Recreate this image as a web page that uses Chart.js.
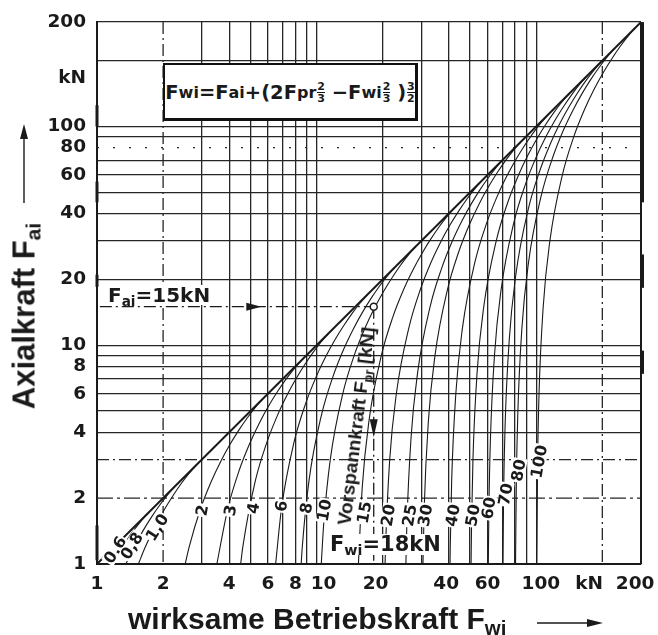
<!DOCTYPE html>
<html>
<head>
<meta charset="utf-8">
<script src="https://cdn.jsdelivr.net/npm/chart.js@4.4.1/dist/chart.umd.min.js"></script>
<style>
  body { margin: 0; background: #fff; }
  #stage { position: relative; width: 658px; height: 635px; overflow: hidden; color: #1a1a1a; }
  canvas { position: absolute; left: 0; top: 0; }
  .txt { position: absolute; white-space: nowrap; font-weight: bold; }
  .txt sub { font-size: 0.68em; vertical-align: -0.3em; line-height: 0; }
  #ytitle { font: bold 31px "Liberation Sans", Arial, sans-serif; line-height: 31px;
            left: 24px; top: 316px; transform: translate(-50%, -50%) rotate(-90deg); }
  #xtitle { font: bold 30px "Liberation Sans", Arial, sans-serif; line-height: 30px; left: 128px; top: 604px; }
  #formula { font: bold 19.5px "DejaVu Sans", sans-serif; left: 163px; top: 63px; width: 250px; height: 51px;
             background: #fff; border: 2px solid #111; border-right-width: 3px; border-bottom-width: 3px;
             display: flex; align-items: center; justify-content: center; padding-top: 2px; box-sizing: content-box; }
  #formula sub { font-size: 16px; vertical-align: -5px; }
  .fr { display: inline-flex; flex-direction: column; font-size: 11px; line-height: 11px;
        vertical-align: 10px; margin-left: 1px; text-align: center; }
  .fr span:first-child { border-bottom: 1px solid #111; }
  #faiNote { font: bold 20px "DejaVu Sans", sans-serif; line-height: 20px; left: 106px; top: 285px;
             background: #fff; padding: 0 2px; }
  #fwiNote { font: bold 21px "DejaVu Sans", sans-serif; line-height: 21px; left: 328px; top: 534px;
             background: #fff; padding: 0 2px; }
  #vorspann { font: bold 19px "Liberation Sans", Arial, sans-serif; line-height: 19px;
              left: 356px; top: 426px; transform: translate(-50%, -50%) rotate(-83deg); }
</style>
</head>
<body>
<div id="stage">
  <canvas id="chart" width="658" height="635"></canvas>
  <div class="txt" id="ytitle">Axialkraft F<sub>ai</sub></div>
  <div class="txt" id="xtitle">wirksame Betriebskraft F<sub>wi</sub></div>
  <div class="txt" id="formula">F<sub>wi</sub>=F<sub>ai</sub>+(2F<sub>pr</sub><span class="fr"><span>2</span><span>3</span></span>&nbsp;&minus;F<sub>wi</sub><span class="fr"><span>2</span><span>3</span></span>&nbsp;)<span class="fr"><span>3</span><span>2</span></span></div>
  <div class="txt" id="faiNote">F<sub>ai</sub>=15kN</div>
  <div class="txt" id="fwiNote">F<sub>wi</sub>=18kN</div>
  <div class="txt" id="vorspann">Vorspannkraft F<sub>pr</sub> [kN]</div>
</div>
<script>
// Vorspannkraft-Kurven (Fpr in kN): wirksame Betriebskraft Fwi -> Axialkraft Fai
const preloadKN = [0.6, 0.8, 1.0, 2, 3, 4, 6, 8, 10, 15, 20, 25, 30, 40, 50, 60, 70, 80, 100];

const curveFwi = [
  [1.17, 1.21, 1.33, 1.45, 1.57, 1.70],
  [1.354, 1.47, 1.619, 1.773, 1.932, 2.095, 2.263],
  [1.543, 1.657, 1.837, 2.024, 2.217, 2.415, 2.619, 2.828],
  [2.521, 2.629, 2.964, 3.313, 3.674, 4.048, 4.433, 4.83, 5.238, 5.657],
  [3.514, 3.944, 4.447, 4.97, 5.511, 6.072, 6.65, 7.245, 7.857, 8.485],
  [4.51, 4.615, 5.258, 5.929, 6.626, 7.348, 8.095, 8.866, 9.66, 10.48, 11.31],
  [6.507, 6.922, 7.887, 8.893, 9.939, 11.02, 12.14, 13.3, 14.49, 15.71, 16.97],
  [8.505, 8.607, 9.23, 10.52, 11.86, 13.25, 14.7, 16.19, 17.73, 19.32, 20.95, 22.63],
  [10.5, 10.76, 11.54, 13.15, 14.82, 16.57, 18.37, 20.24, 22.17, 24.15, 26.19, 28.28],
  [15.5, 16.14, 17.31, 19.72, 22.23, 24.85, 27.56, 30.36, 33.25, 36.22, 39.29, 42.43],
  [20.5, 20.6, 21.52, 23.07, 26.29, 29.65, 33.13, 36.74, 40.48, 44.33, 48.3, 52.38, 56.57],
  [25.5, 25.75, 26.9, 28.84, 32.86, 37.06, 41.41, 45.93, 50.6, 55.41, 60.37, 65.47, 70.71],
  [30.5, 30.9, 32.28, 34.61, 39.44, 44.47, 49.7, 55.11, 60.72, 66.5, 72.45, 78.57, 84.85],
  [40.5, 40.6, 41.21, 43.04, 46.15, 52.58, 59.29, 66.26, 73.49, 80.95, 88.66, 96.6, 104.8, 113.1],
  [50.5, 50.75, 51.51, 53.8, 57.69, 65.73, 74.11, 82.83, 91.86, 101.2, 110.8, 120.7, 130.9, 141.4],
  [60.5, 60.9, 61.81, 64.56, 69.22, 78.87, 88.93, 99.39, 110.2, 121.4, 133.0, 144.9, 157.1, 169.7],
  [70.5, 71.05, 72.11, 75.32, 80.76, 92.02, 103.8, 116.0, 128.6, 141.7, 155.2, 169.0, 183.3, 198.0],
  [80.5, 81.2, 82.41, 86.07, 92.3, 105.2, 118.6, 132.5, 147.0, 161.9, 177.3, 193.2, 209.5, 226.3],
  [100.5, 101.5, 103.0, 107.6, 115.4, 131.5, 148.2, 165.7, 183.7, 202.4, 221.7, 241.5, 261.9, 282.8]
];

const curveFai = [
  [1.0, 1.06, 1.23, 1.40, 1.55, 1.70],
  [1.0, 1.187, 1.417, 1.642, 1.86, 2.07, 2.263],
  [1.0, 1.192, 1.484, 1.771, 2.052, 2.326, 2.587, 2.828],
  [1.0, 1.198, 1.793, 2.383, 2.967, 3.542, 4.104, 4.651, 5.175, 5.657],
  [1.0, 1.797, 2.69, 3.575, 4.451, 5.313, 6.157, 6.977, 7.762, 8.485],
  [1.0, 1.2, 2.396, 3.586, 4.767, 5.934, 7.084, 8.209, 9.302, 10.35, 11.31],
  [1.0, 1.799, 3.594, 5.379, 7.15, 8.901, 10.63, 12.31, 13.95, 15.52, 16.97],
  [1.0, 1.2, 2.399, 4.792, 7.173, 9.534, 11.87, 14.17, 16.42, 18.6, 20.7, 22.63],
  [1.0, 1.5, 3.0, 5.99, 8.966, 11.92, 14.84, 17.71, 20.52, 23.26, 25.87, 28.28],
  [1.0, 2.25, 4.498, 8.985, 13.45, 17.88, 22.25, 26.56, 30.78, 34.88, 38.81, 42.43],
  [1.0, 1.2, 3.0, 5.998, 11.98, 17.93, 23.84, 29.67, 35.42, 41.04, 46.51, 51.75, 56.57],
  [1.0, 1.5, 3.75, 7.497, 14.98, 22.41, 29.79, 37.09, 44.27, 51.31, 58.14, 64.68, 70.71],
  [1.0, 1.8, 4.499, 8.996, 17.97, 26.9, 35.75, 44.51, 53.13, 61.57, 69.77, 77.62, 84.85],
  [1.0, 1.2, 2.4, 5.999, 12.0, 23.96, 35.86, 47.67, 59.34, 70.84, 82.09, 93.02, 103.5, 113.1],
  [1.0, 1.5, 3.0, 7.499, 14.99, 29.95, 44.83, 59.59, 74.18, 88.54, 102.6, 116.3, 129.4, 141.4],
  [1.0, 1.8, 3.6, 8.999, 17.99, 35.94, 53.79, 71.5, 89.01, 106.3, 123.1, 139.5, 155.2, 169.7],
  [1.0, 2.1, 4.2, 10.5, 20.99, 41.93, 62.76, 83.42, 103.9, 124.0, 143.7, 162.8, 181.1, 198.0],
  [1.0, 2.4, 4.8, 12.0, 23.99, 47.92, 71.73, 95.34, 118.7, 141.7, 164.2, 186.0, 207.0, 226.3],
  [1.0, 3.0, 6.0, 15.0, 29.99, 59.9, 89.66, 119.2, 148.4, 177.1, 205.2, 232.6, 258.7, 282.8]
];

// Diagonale Fai = Fwi
const diagFwi = [1, 300];
const diagFai = [1, 300];

// Ablesebeispiel: Fai = 15 kN -> Fwi = 18 kN
const exampleFai = 15;
const exampleFwi = 18.2;

// Kurvenbeschriftungen
const curveLabelText = ['0,6', '0,8', '1,0', '2', '3', '4', '6', '8', '10', '15', '20', '25', '30', '40', '50', '60', '70', '80', '100'];
const curveLabelFwi = [1.21, 1.44, 1.88, 3.01, 4.05, 5.15, 6.92, 8.98, 10.86, 16.5, 21.2, 26.5, 31.3, 41.7, 51.5, 60.8, 72.6, 83.2, 103.1];
const curveLabelFai = [1.16, 1.21, 1.47, 1.76, 1.76, 1.8, 1.84, 1.8, 1.76, 1.72, 1.67, 1.67, 1.67, 1.67, 1.67, 1.8, 2.08, 2.68, 2.94];

// Achsen: Gitterlinien und Beschriftungen
const gridValues = [1, 2, 3, 4, 5, 6, 7, 8, 9, 10, 20, 30, 40, 50, 60, 70, 80, 90, 100, 200, 300];
const xLabelValues = [1, 2, 4, 6, 8, 10.75, 18.55, 38.9, 60, 105, 174, 282];
const xLabelText = ['1', '2', '4', '6', '8', '10', '20', '40', '60', '100', 'kN', '200'];
const yLabelValues = [1, 2, 4, 6, 8, 10, 20, 40, 60, 80, 100, 167, 300];
const yLabelText = ['1', '2', '4', '6', '8', '10', '20', '40', '60', '80', '100', 'kN', '200'];

const INK = '#1a1a1a';
const dashedX = [2, 200];
const dashedY = [2, 3, 80];

function near(a, b) { return Math.abs(a - b) < 1e-6; }

function tickSet(labels) {
  const all = gridValues.concat(labels.filter(v => !gridValues.some(g => near(g, v))));
  return all.sort((a, b) => a - b).map(v => ({ value: v }));
}

function labelFor(v, values, texts) {
  const i = values.findIndex(l => near(l, v));
  return i < 0 ? '' : texts[i];
}

function gridColor(v, dashed) {
  if (!gridValues.some(g => near(g, v))) return 'rgba(0,0,0,0)';
  if (dashed.some(d => near(d, v))) return 'rgba(0,0,0,0)';
  return '#262626';
}

const datasets = preloadKN.map((kn, i) => ({
  label: 'Fpr ' + kn + ' kN',
  data: curveFwi[i].map((fwi, j) => ({ x: fwi, y: curveFai[i][j] })),
  borderColor: INK,
  borderWidth: 1.1,
  pointRadius: 0,
  cubicInterpolationMode: 'monotone',
  fill: false
}));

datasets.push({
  label: 'Fai = Fwi',
  data: diagFwi.map((v, j) => ({ x: v, y: diagFai[j] })),
  borderColor: INK,
  borderWidth: 2,
  pointRadius: 0
});

datasets.push({
  label: 'Beispiel Fai',
  data: [{ x: 1.03, y: exampleFai }, { x: exampleFwi, y: exampleFai }],
  borderColor: INK,
  borderWidth: 1.3,
  borderDash: [12, 4, 2, 4],
  pointRadius: 0
});

datasets.push({
  label: 'Beispiel Fwi',
  data: [{ x: exampleFwi, y: exampleFai }, { x: exampleFwi, y: 1 }],
  borderColor: INK,
  borderWidth: 1.3,
  borderDash: [12, 4, 2, 4],
  pointRadius: 0
});

function arrowHead(ctx, tx, ty, dx, dy, len, half) {
  ctx.beginPath();
  ctx.moveTo(tx, ty);
  ctx.lineTo(tx - dx * len - dy * half, ty - dy * len + dx * half);
  ctx.lineTo(tx - dx * len + dy * half, ty - dy * len - dx * half);
  ctx.closePath();
  ctx.fill();
}

const decorPlugin = {
  id: 'decor',
  beforeDatasetsDraw(chart) {
    const { ctx, chartArea: a, scales: { x, y } } = chart;
    ctx.save();
    ctx.strokeStyle = '#262626';
    ctx.lineWidth = 1.3;
    ctx.setLineDash([12, 4, 2, 4]);
    dashedX.forEach(v => {
      const px = x.getPixelForValue(v);
      ctx.beginPath(); ctx.moveTo(px, a.top); ctx.lineTo(px, a.bottom); ctx.stroke();
    });
    dashedY.forEach(v => {
      const py = y.getPixelForValue(v);
      ctx.setLineDash(v === 80 ? [2, 14] : v === 2 ? [16, 4, 3, 4] : [12, 4, 2, 4]);
      ctx.beginPath(); ctx.moveTo(a.left, py); ctx.lineTo(a.right, py); ctx.stroke();
    });
    ctx.restore();
  },
  afterDatasetsDraw(chart) {
    const { ctx, chartArea: a, scales: { x, y } } = chart;
    ctx.save();
    ctx.fillStyle = INK;
    ctx.strokeStyle = INK;

    // Rahmen rechts (kräftig) und Randmarken
    ctx.lineWidth = 2;
    ctx.beginPath(); ctx.moveTo(a.right, a.top); ctx.lineTo(a.right, a.bottom); ctx.stroke();
    ctx.lineWidth = 4;
    [[45, 300], [18.3, 26], [7.4, 9.45]].forEach(([lo, hi]) => {
      ctx.beginPath();
      ctx.moveTo(a.right + 1, y.getPixelForValue(hi));
      ctx.lineTo(a.right + 1, y.getPixelForValue(lo));
      ctx.stroke();
    });
    ctx.lineWidth = 3;
    [[100, 125], [45, 56], [1.04, 1.5], [18.5, 21]].forEach(([lo, hi]) => {
      ctx.beginPath();
      ctx.moveTo(a.left, y.getPixelForValue(hi));
      ctx.lineTo(a.left, y.getPixelForValue(lo));
      ctx.stroke();
    });

    // Pfeile am Ablesebeispiel
    arrowHead(ctx, x.getPixelForValue(5.6), y.getPixelForValue(exampleFai), 1, 0, 15, 4);
    arrowHead(ctx, x.getPixelForValue(exampleFwi), y.getPixelForValue(3.8), 0, 1, 18, 4);

    // Punkt am Schnitt
    ctx.lineWidth = 1.5;
    ctx.fillStyle = '#fff';
    ctx.beginPath();
    ctx.arc(x.getPixelForValue(exampleFwi), y.getPixelForValue(exampleFai), 3.5, 0, Math.PI * 2);
    ctx.fill(); ctx.stroke();

    // Kurvenbeschriftungen
    ctx.font = 'bold 16px "DejaVu Sans", sans-serif';
    ctx.textAlign = 'center';
    ctx.textBaseline = 'middle';
    curveLabelText.forEach((t, i) => {
      const px = x.getPixelForValue(curveLabelFwi[i]);
      const py = y.getPixelForValue(curveLabelFai[i]);
      const ang = i < 3 ? -58 : -80;
      ctx.save();
      ctx.translate(px, py);
      ctx.rotate(ang * Math.PI / 180);
      const w = ctx.measureText(t).width;
      ctx.fillStyle = '#fff';
      ctx.fillRect(-w / 2 - 1, -7, w + 2, 14);
      ctx.fillStyle = INK;
      ctx.fillText(t, 0, 1);
      ctx.restore();
    });
    ctx.restore();
  },
  afterDraw(chart) {
    const ctx = chart.ctx;
    ctx.save();
    ctx.strokeStyle = INK;
    ctx.fillStyle = INK;
    ctx.lineWidth = 1.4;
    // Pfeil an der Ordinate
    ctx.beginPath(); ctx.moveTo(24, 203); ctx.lineTo(24, 136); ctx.stroke();
    arrowHead(ctx, 24, 124, 0, -1, 15, 4);
    // Pfeil an der Abszisse
    ctx.beginPath(); ctx.moveTo(537, 623); ctx.lineTo(590, 623); ctx.stroke();
    arrowHead(ctx, 603, 623, 1, 0, 16, 4);
    ctx.restore();
  }
};

const tickFont = { family: '"DejaVu Sans", sans-serif', size: 18.5, weight: 'bold' };

new Chart(document.getElementById('chart'), {
  type: 'line',
  data: { datasets: datasets },
  options: {
    responsive: false,
    animation: false,
    events: [],
    layout: { padding: { left: 0, top: 20, right: 17, bottom: 0 } },
    plugins: { legend: { display: false }, tooltip: { enabled: false } },
    scales: {
      x: {
        type: 'logarithmic',
        min: 1,
        max: 300,
        afterBuildTicks: s => { s.ticks = tickSet(xLabelValues); },
        afterFit: s => { s.height = 71; },
        ticks: {
          autoSkip: false, maxRotation: 0, minRotation: 0, padding: 9,
          color: INK, font: tickFont,
          callback: v => labelFor(v, xLabelValues, xLabelText)
        },
        grid: { drawTicks: false, lineWidth: 1.3, color: c => gridColor(c.tick.value, dashedX) },
        border: { display: true, color: INK, width: 2 }
      },
      y: {
        type: 'logarithmic',
        min: 1,
        max: 300,
        afterBuildTicks: s => { s.ticks = tickSet(yLabelValues); },
        afterFit: s => { s.width = 97; },
        ticks: {
          autoSkip: false, padding: 11,
          color: INK, font: tickFont,
          callback: v => labelFor(v, yLabelValues, yLabelText)
        },
        grid: { drawTicks: false, lineWidth: 1.3, color: c => gridColor(c.tick.value, dashedY) },
        border: { display: true, color: INK, width: 2 }
      }
    }
  },
  plugins: [decorPlugin]
});
</script>
</body>
</html>
